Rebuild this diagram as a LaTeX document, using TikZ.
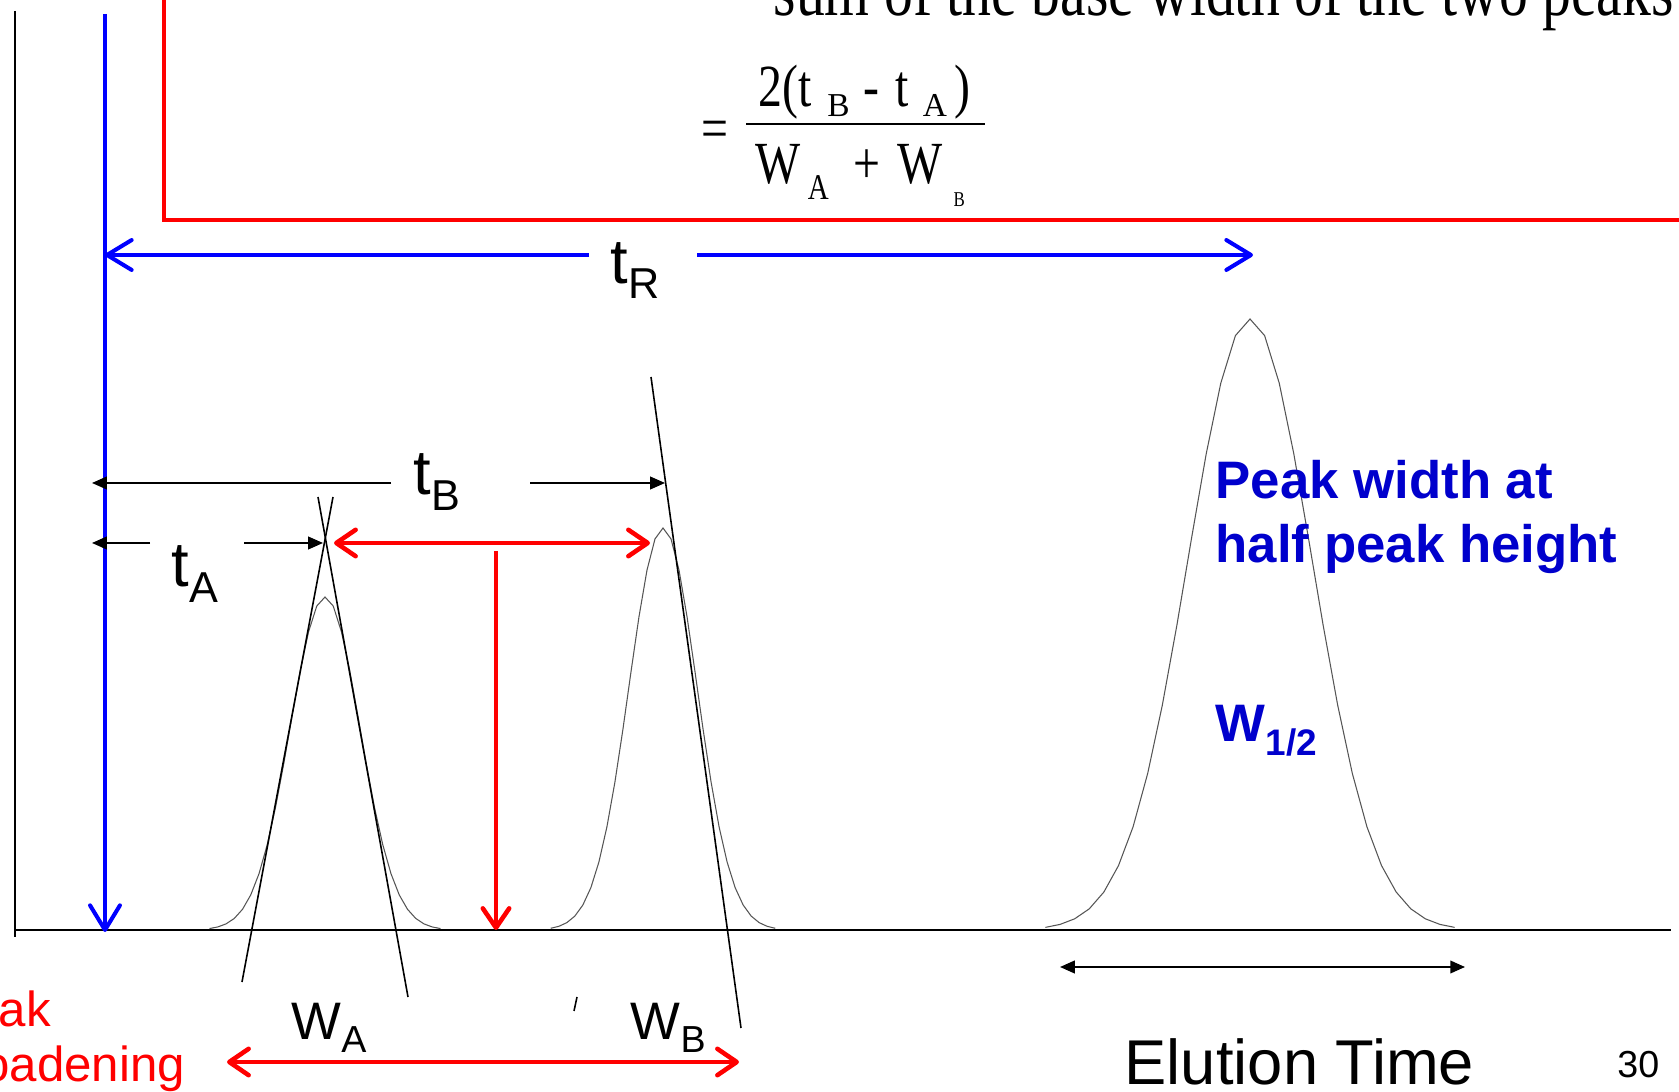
\documentclass[tikz,border=0pt]{standalone}
\usepackage{fontspec}
\setmainfont{Liberation Sans}
\newfontfamily\eqfont[FakeStretch=0.8]{Liberation Serif}
\newfontfamily\eqsub{Liberation Serif}
\usepackage{tikz}
\usetikzlibrary{arrows.meta,calc}
\definecolor{cRed}{RGB}{255,0,0}
\definecolor{cBlu}{RGB}{0,0,255}
\definecolor{cBluTx}{RGB}{0,0,204}
\definecolor{cPeak}{RGB}{85,85,85}
\newcommand\subx[3]{\raisebox{-#1}{\fontsize{#2}{#2}\selectfont #3}}
\tikzset{
  axisln/.style ={draw=black,line width=0.85pt},
  peakln/.style ={draw=cPeak,line width=0.3pt},
  tanln/.style  ={draw=black,line width=0.45pt},
  bluarr/.style ={draw=cBlu,line width=1.15pt,-{Straight Barb[length=7pt,width=8.5pt,round]}},
  redln/.style  ={draw=cRed,line width=1.3pt},
  redarr/.style ={redln,-{Straight Barb[length=5.5pt,width=7.5pt,round]}},
  redarrs/.style={redln,{Straight Barb[length=5.5pt,width=7.5pt,round]}-{Straight Barb[length=5.5pt,width=7.5pt,round]}},
  blkarr/.style ={draw=black,line width=0.45pt,-{Triangle[length=4.2pt,width=3.6pt]}},
  blkarrs/.style={draw=black,line width=0.55pt,{Triangle[length=4.2pt,width=3.6pt]}-{Triangle[length=4.2pt,width=3.6pt]}},
  lbl/.style    ={inner sep=0pt,anchor=base west},
  tlbl/.style   ={lbl,font=\fontsize{18}{18}\selectfont},
  wlbl/.style   ={lbl,font=\fontsize{15}{15}\selectfont},
  eqlbl/.style  ={lbl,font=\eqfont\fontsize{17}{20}\selectfont},
}

\begin{document}
\begin{tikzpicture}[x=0.01cm,y=-0.01cm]
\useasboundingbox (0,0) rectangle (1679,1092);

%% ================= axes and peaks =======================================
% one pixel of the slide = one unit; y grows downwards, baseline at 930
\draw[axisln,line width=0.6pt] (15,11) -- (15,937);
\draw[axisln] (15,930) -- (1671,930);

\def\gpk#1#2#3{%
  \draw[peakln] plot[domain=-3.3:3.3,samples=29] ({#1+#2*\x},{930-#3*exp(-0.5*\x*\x)});}
\gpk{325}{35}{333}
\gpk{663}{34}{402}
\gpk{1250}{62}{611}

% tangents through the inflection points
\coordinate (aLt) at (333,497);  \coordinate (aLb) at (242,982);
\coordinate (aRt) at (318,497);  \coordinate (aRb) at (408,997);
\coordinate (bRt) at (651,377);  \coordinate (bRb) at (741,1028);
\coordinate (tk1) at (577,997);  \coordinate (tk2) at (574,1011);
\draw[tanln] (aLt) -- (aLb);
\draw[tanln] (aRt) -- (aRb);
\draw[tanln] (bRt) -- (bRb);
\draw[tanln] (tk1) -- (tk2);

%% ================= resolution formula ===================================
\coordinate (rTop) at (164,-10);
\coordinate (rCor) at (164,220);
\coordinate (rEnd) at (1690,220);
\draw[redln] (rTop) -- (rCor) -- (rEnd);

\node[lbl,font=\eqfont\fontsize{20.5}{24}\selectfont] (sumtx) at (773,16) {sum of the base width of the two peaks};
\node[eqlbl] (eqs) at (701,149) {=};
\node[eqlbl] (num) at (758,107)
  {2(t\kern4.4pt\subx{2.6pt}{9.5}{\eqsub B}\kern4pt-\kern4.5pt t\kern4pt\subx{2.6pt}{9.5}{\eqsub A}\kern2.2pt)};
\node[eqlbl] (den) at (755,184)
  {W\kern2pt\subx{4.3pt}{10.3}{A}\kern7pt+\kern5pt W\kern3pt\subx{6.5pt}{6}{B}};
\coordinate (barL) at (746,124);
\coordinate (barR) at (985,124);
\draw[draw=black,line width=0.6pt] (barL) -- (barR);

%% ================= retention times ======================================
\coordinate (bTop) at (105,14);
\coordinate (bBot) at (105,932);
\draw[bluarr] (bTop) -- (bBot);

\node[tlbl] (tR) at (610,284) {t\subx{4pt}{12.3}{R}};
\coordinate (tRa) at (589,255);
\coordinate (tRb) at (697,255);
\coordinate (tRc) at (1253,255);
\draw[bluarr] (tRa) -- (tRa -| bBot);
\draw[bluarr] (tRb) -- (tRc);

\node[tlbl] (tB) at (413,495) {t\subx{4.5pt}{12.3}{B}};
\coordinate (tBa) at (391,483);  \coordinate (tBl) at (92,483);
\coordinate (tBb) at (530,483);  \coordinate (tBr) at (665,483);
\draw[blkarr] (tBa) -- (tBl);
\draw[blkarr] (tBb) -- (tBr);

\node[tlbl] (tA) at (171,587) {t\subx{4.3pt}{12.3}{A}};
\coordinate (tAa) at (150,543);  \coordinate (tAl) at (92,543);
\coordinate (tAb) at (244,543);  \coordinate (tAr) at (323,543);
\draw[blkarr] (tAa) -- (tAl);
\draw[blkarr] (tAb) -- (tAr);

% peak to peak distance and its drop line
\coordinate (dL) at (334,543);  \coordinate (dR) at (650,543);
\coordinate (dT) at (496,551);  \coordinate (dB) at (496,930);
\draw[redarrs] (dL) -- (dR);
\draw[redarr] (dT) -- (dB);

%% ================= widths ===============================================
\node[wlbl] (wA) at (291,1039) {W\subx{3.7pt}{10.7}{A}};
\node[wlbl] (wB) at (630,1039) {W\subx{3.7pt}{10.7}{B}};
\coordinate (wL) at (227,1062);  \coordinate (wR) at (739,1062);
\draw[redarrs] (wL) -- (wR);

\node[lbl,text=cRed,font=\fontsize{14}{14}\selectfont] (pb1) at (-62,1026) {Peak};
\node[lbl,text=cRed,font=\fontsize{14}{14}\selectfont] (pb2) at (-62,1081) {broadening};

\node[lbl,text=cBluTx,font=\bfseries\fontsize{15}{15}\selectfont] (pw1) at (1215,499) {Peak width at};
\node[lbl,text=cBluTx,font=\bfseries\fontsize{15}{15}\selectfont] (pw2) at (1215,563) {half peak height};
\node[lbl,text=cBluTx,font=\bfseries\fontsize{15}{15}\selectfont] (wh) at (1215,742) {W\subx{3.7pt}{10.5}{1/2}};

\coordinate (hL) at (1060,967);  \coordinate (hR) at (1465,967);
\draw[blkarrs] (hL) -- (hR);

\node[lbl,font=\fontsize{18}{18}\selectfont] (el) at (1124,1084) {Elution Time};
\node[lbl,anchor=base east,font=\fontsize{10.7}{10.7}\selectfont] (pg) at (1660,1077) {30};

\end{tikzpicture}
\end{document}
